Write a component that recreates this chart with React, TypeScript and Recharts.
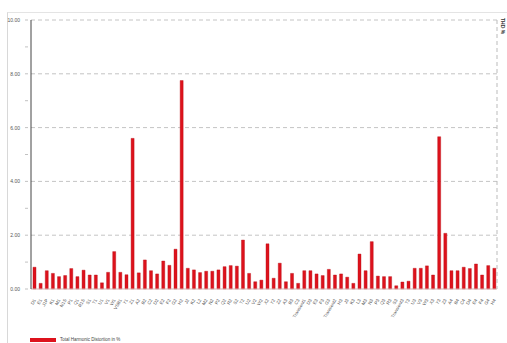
import { BarChart, Bar, XAxis, YAxis, CartesianGrid } from 'recharts';

// Channel names along the x axis
const channels = [
  'D1', 'E1', 'J1P', 'K1', 'M1', 'N1S', 'P1', 'Q1', 'R1S', 'S1',
  'T1', 'U1', 'V1', 'W1', 'VSB1', 'Y1', 'Z1', 'A2', 'B2', 'C2',
  'D2', 'E2', 'F2', 'G2', 'H2', 'J2', 'K2', 'L2', 'M2', 'N2',
  'P2', 'Q2', 'R2', 'S2', 'T2', 'U2', 'V2', 'W2', 'X2', 'Y2',
  'Z2', 'A3', 'B3', 'C3', 'Transient1', 'D3', 'E3', 'F3', 'G3', 'Transient2',
  'H3', 'J3', 'K3', 'L3', 'M3', 'N3', 'P3', 'Q3', 'R3', 'S3',
  'Transient3', 'T3', 'U3', 'V3', 'W3', 'X3', 'Y3', 'Z3', 'A4', 'B4',
  'C4', 'D4', 'E4', 'F4', 'G4', 'H4',
];

// Total harmonic distortion per channel, in %
const thdValues = [
  0.81, 0.21, 0.68, 0.58, 0.46, 0.5, 0.76, 0.46, 0.7, 0.52,
  0.52, 0.23, 0.62, 1.39, 0.62, 0.53, 5.6, 0.6, 1.08, 0.68,
  0.56, 1.04, 0.88, 1.48, 7.75, 0.77, 0.71, 0.61, 0.66, 0.66,
  0.71, 0.83, 0.87, 0.85, 1.82, 0.58, 0.27, 0.33, 1.68, 0.4,
  0.96, 0.27, 0.58, 0.21, 0.68, 0.68, 0.56, 0.5, 0.73, 0.52,
  0.56, 0.44, 0.21, 1.3, 0.68, 1.76, 0.48, 0.46, 0.46, 0.12,
  0.26, 0.29, 0.77, 0.77, 0.86, 0.52, 5.66, 2.07, 0.68, 0.68,
  0.81, 0.76, 0.93, 0.52, 0.87, 0.77,
];

const yTicks = [0, 1, 2, 3, 4, 5, 6, 7, 8, 9, 10];
const gridValues = [2, 4, 6, 8, 10];

const data = channels.map((name, i) => ({ name, thd: thdValues[i] }));

const FONT = '"Liberation Sans", Arial, sans-serif';

const YTick = ({ x, y, payload }: any) => {
  const major = payload.value % 2 === 0;
  return (
    <g>
      <line x1={x + 2} x2={x + 5} y1={y} y2={y} stroke="#999" strokeWidth={0.6} />
      {major && (
        <text x={x - 3} y={y + 2} textAnchor="end" fontSize={5} fill="#555" fontFamily={FONT}>
          {payload.value.toFixed(2)}
        </text>
      )}
    </g>
  );
};

const XTick = ({ x, y, payload }: any) => (
  <text
    x={x + 2}
    y={y + 3}
    textAnchor="end"
    fontSize={4.5}
    fill="#555"
    fontFamily={FONT}
    transform={`rotate(-60, ${x + 2}, ${y + 3})`}
  >
    {payload.value}
  </text>
);

export default function App() {
  return (
    <div style={{ position: 'fixed', left: 0, top: 0, width: 507, height: 343, background: '#fff', overflow: 'hidden' }}>
      {/* frame */}
      <div style={{ position: 'absolute', left: 7, top: 12, width: 520, height: 340, borderLeft: '1px solid #d8d8d8', borderTop: '1px solid #e4e4e4' }} />
      <BarChart
        width={507}
        height={343}
        data={data}
        margin={{ top: 20, right: 0, left: 0, bottom: 34 }}
        barSize={3}
      >
        <CartesianGrid
          vertical={false}
          horizontalValues={gridValues}
          stroke="#c4c4c4"
          strokeDasharray="4 3"
        />
        <XAxis
          dataKey="name"
          interval={0}
          height={20}
          tick={<XTick />}
          tickLine={false}
          axisLine={{ stroke: '#d8b0b0' }}
        />
        <YAxis
          width={31}
          domain={[0, 10]}
          ticks={yTicks}
          interval={0}
          tick={<YTick />}
          tickLine={false}
          axisLine={{ stroke: '#444' }}
        />
        <YAxis
          yAxisId="frame"
          orientation="right"
          width={10}
          tick={false}
          tickLine={false}
          axisLine={{ stroke: '#bbb', strokeDasharray: '4 3' }}
        />
        <Bar dataKey="thd" fill="#dd121c" stroke="#b80c14" strokeWidth={0.4} isAnimationActive={false} />
      </BarChart>
      <div
        style={{
          position: 'absolute',
          left: 500,
          top: 18,
          fontSize: 5,
          fontFamily: FONT,
          fontWeight: 'bold',
          color: '#333',
          writingMode: 'vertical-rl',
          whiteSpace: 'nowrap',
        }}
      >
        THD %
      </div>
      {/* legend */}
      <div style={{ position: 'absolute', left: 30, top: 337, display: 'flex', alignItems: 'center' }}>
        <div style={{ width: 26, height: 4, background: '#dd121c' }} />
        <span style={{ marginLeft: 4, fontSize: 4.5, fontFamily: FONT, color: '#444', whiteSpace: 'nowrap' }}>
          Total Harmonic Distortion in %
        </span>
      </div>
    </div>
  );
}
